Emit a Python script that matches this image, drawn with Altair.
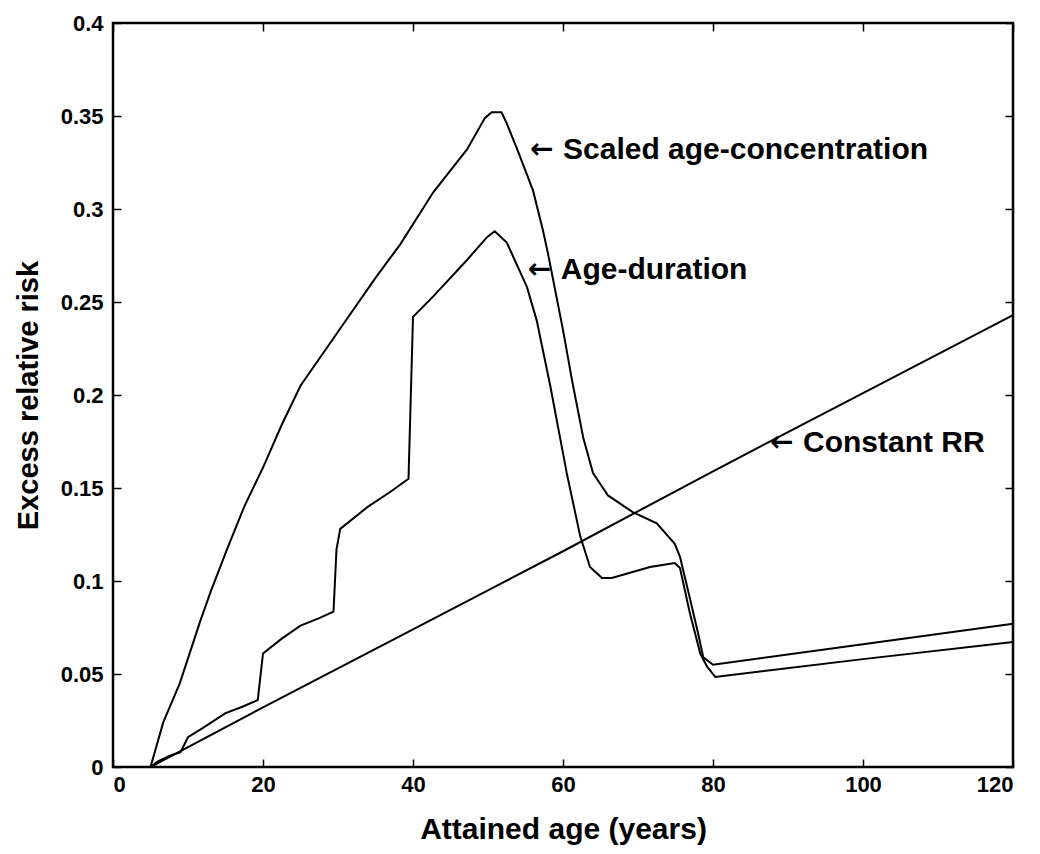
import altair as alt
import pandas as pd

# Constant RR
const_age = [5, 20, 40, 60, 80, 100, 120]
const_err = [0.0, 0.032, 0.074, 0.116, 0.159, 0.201, 0.243]

# Scaled age-concentration
scaled_age = [5, 6.7, 8.9, 11.6, 13, 15.2, 17.5, 20, 22.5, 25, 30, 35, 38.3, 42.7, 47.2, 49.6,
              50.5, 51.8, 52.5, 53.9, 56, 57.3, 58, 60, 61.2, 62.7, 64, 66, 69.3, 72.5, 74.9,
              75.6, 76.9, 78, 78.7, 80, 100, 120]
scaled_err = [0.0, 0.024, 0.045, 0.078, 0.094, 0.117, 0.140, 0.161, 0.184, 0.205, 0.234, 0.263,
              0.281, 0.309, 0.332, 0.349, 0.352, 0.352, 0.346, 0.332, 0.310, 0.289, 0.276, 0.235,
              0.208, 0.177, 0.158, 0.146, 0.137, 0.131, 0.120, 0.113, 0.091, 0.072, 0.059, 0.055,
              0.066, 0.077]

# Age-duration
dur_age = [5, 6, 7.5, 9, 10, 12, 15, 17, 19.3, 20.0, 22.5, 25, 27.5, 29.4, 29.8, 30.3, 34, 37,
           39.4, 40.0, 42.7, 47.2, 49.9, 50.9, 52.5, 55.2, 56.5, 58.3, 60.5, 62.3, 63.6, 65.2,
           66.5, 71.6, 74.9, 75.6, 76.9, 78.3, 79.2, 80.3, 100, 120]
dur_err = [0.0, 0.003, 0.006, 0.008, 0.016, 0.021, 0.029, 0.032, 0.036, 0.061, 0.069, 0.076,
           0.080, 0.0835, 0.117, 0.128, 0.140, 0.148, 0.155, 0.242, 0.253, 0.2726, 0.285, 0.288,
           0.282, 0.258, 0.240, 0.205, 0.158, 0.124, 0.1075, 0.1016, 0.1016, 0.1075, 0.1097,
           0.107, 0.083, 0.061, 0.054, 0.0484, 0.058, 0.0672]

# Annotations
label_text = ["Scaled age-concentration", "Age-duration", "Constant RR"]
label_x = [55.6, 55.3, 87.6]
label_y = [0.3317, 0.267, 0.174]

x_ticks = [0, 20, 40, 60, 80, 100, 120]
y_ticks = [0, 0.05, 0.1, 0.15, 0.2, 0.25, 0.3, 0.35, 0.4]

rows = []
for name, xs, ys in [("Constant RR", const_age, const_err),
                     ("Scaled age-concentration", scaled_age, scaled_err),
                     ("Age-duration", dur_age, dur_err)]:
    for i, (a, e) in enumerate(zip(xs, ys)):
        rows.append({"series": name, "age": a, "err": e, "order": i})
df = pd.DataFrame(rows)
labels = pd.DataFrame({"text": label_text, "age": label_x, "err": label_y})

FONT = "Liberation Sans"
xscale = alt.Scale(domain=[0, 120], nice=False, zero=False)
yscale = alt.Scale(domain=[0, 0.4], nice=False, zero=False)

common_axis = dict(grid=False, domain=False, tickColor="black", tickSize=8, tickWidth=1.5,
                   labelFont=FONT, labelFontWeight="bold", labelFontSize=22, labelColor="black",
                   titleFont=FONT, titleFontWeight="bold", titleColor="black",
                   offset=-8)

x_axis = alt.Axis(values=x_ticks, format="~g", title="Attained age (years)",
                  labelPadding=7, titlePadding=19, titleFontSize=30, **common_axis)
y_axis = alt.Axis(values=y_ticks, format="~g", title="Excess relative risk",
                  labelPadding=10, titlePadding=17, titleFontSize=29, **common_axis)

lines = alt.Chart(df).mark_line(color="black", strokeWidth=2).encode(
    x=alt.X("age:Q", scale=xscale, axis=x_axis),
    y=alt.Y("err:Q", scale=yscale, axis=y_axis),
    detail="series:N",
    order="order:Q",
)

arrows = alt.Chart(labels).mark_text(align="left", baseline="middle", font="DejaVu Sans",
                                     fontWeight="bold", fontSize=28, color="black").encode(
    x=alt.X("age:Q", scale=xscale),
    y=alt.Y("err:Q", scale=yscale),
    text=alt.value("\u2190"),
)

texts = alt.Chart(labels).mark_text(align="left", baseline="middle", font=FONT, dx=33,
                                    fontWeight="bold", fontSize=30, color="black").encode(
    x=alt.X("age:Q", scale=xscale),
    y=alt.Y("err:Q", scale=yscale),
    text="text:N",
)

base = alt.layer(lines, arrows, texts)

sec_axis = dict(grid=False, domain=False, tickColor="black", tickSize=8, tickWidth=1.5,
                labels=False, title=None, offset=-8)
secondary = alt.Chart(pd.DataFrame({"age": const_age, "err": const_err})).mark_point(opacity=0).encode(
    x=alt.X("age:Q", scale=xscale, axis=alt.Axis(orient="top", values=x_ticks, **sec_axis)),
    y=alt.Y("err:Q", scale=yscale, axis=alt.Axis(orient="right", values=y_ticks, **sec_axis)),
)

chart = alt.layer(base, secondary).resolve_scale(x="independent", y="independent").properties(
    width=900, height=744,
    background="white",
    autosize=alt.AutoSizeParams(type="none"),
    padding={"left": 105, "top": 15, "right": 15, "bottom": 80},
).configure_view(stroke="black", strokeWidth=2.5, strokeOpacity=1)

chart.save("out.html", embed_options={"renderer": "svg", "actions": False})
